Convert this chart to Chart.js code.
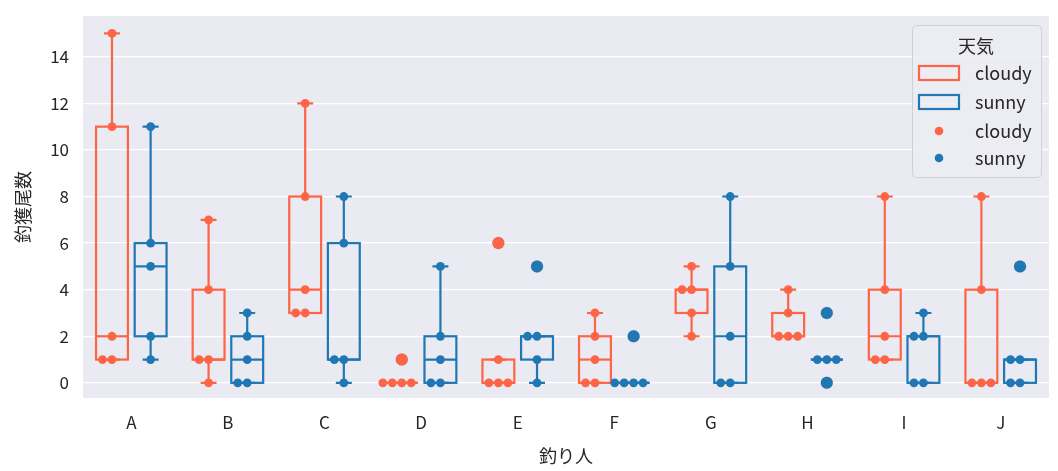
<!DOCTYPE html>
<html>
<head>
<meta charset="utf-8">
<script src="https://cdn.jsdelivr.net/npm/chart.js@4.4.1/dist/chart.umd.min.js"></script>
<style>
  html, body { margin: 0; padding: 0; background: #fff; }
  #wrap { width: 1058px; height: 471px; }
</style>
</head>
<body>
<div id="wrap"><canvas id="c"></canvas></div>
<script>
const categories = ["A", "B", "C", "D", "E", "F", "G", "H", "I", "J"]
const hues = ["cloudy", "sunny"]
const cloudyCatch = [[1, 1, 2, 11, 15], [0, 1, 1, 4, 7], [3, 3, 4, 8, 12], [0, 0, 0, 0, 1], [0, 0, 0, 1, 6],
                     [0, 0, 1, 2, 3], [2, 3, 4, 4, 5], [2, 2, 2, 3, 4], [1, 1, 2, 4, 8], [0, 0, 0, 4, 8]]
const sunnyCatch = [[1, 2, 5, 6, 11], [0, 0, 1, 2, 3], [0, 1, 1, 6, 8], [0, 0, 1, 2, 5], [0, 1, 2, 2, 5],
                    [0, 0, 0, 0, 2], [0, 0, 2, 5, 8], [0, 1, 1, 1, 3], [0, 0, 2, 2, 3], [0, 0, 1, 1, 5]]
const yTicks = [0, 2, 4, 6, 8, 10, 12, 14]

const COLORS = { cloudy: "#fd6546", sunny: "#1f77b4" }
const FONT = "'Noto Sans CJK JP', 'DejaVu Sans', sans-serif"
const DODGE = 0.2, BOX_W = 0.33, SWARM_STEP = 0.098
const SWARM_ORDER = [0, -1, 1, -2, 2, -3, 3]

function quantile(sorted, p) {
  const pos = (sorted.length - 1) * p
  const lo = Math.floor(pos), hi = Math.ceil(pos)
  return sorted[lo] + (sorted[hi] - sorted[lo]) * (pos - lo)
}

function boxStats(values) {
  const s = [...values].sort((a, b) => a - b)
  const q1 = quantile(s, 0.25), med = quantile(s, 0.5), q3 = quantile(s, 0.75)
  const iqr = q3 - q1
  const inside = s.filter(v => v >= q1 - 1.5 * iqr && v <= q3 + 1.5 * iqr)
  return { q1, med, q3, lo: Math.min(...inside), hi: Math.max(...inside),
           fliers: s.filter(v => v < q1 - 1.5 * iqr || v > q3 + 1.5 * iqr) }
}

const groups = []
hues.forEach((hue, h) => {
  const series = h === 0 ? cloudyCatch : sunnyCatch
  series.forEach((vals, i) => {
    groups.push({ hue, x: i + (h === 0 ? -DODGE : DODGE), vals, stats: boxStats(vals) })
  })
})

function swarmPoints(hue) {
  const pts = []
  groups.filter(g => g.hue === hue).forEach(g => {
    const seen = {}
    g.vals.forEach(v => {
      const k = seen[v] || 0
      seen[v] = k + 1
      pts.push({ x: g.x + SWARM_ORDER[k] * SWARM_STEP, y: v })
    })
  })
  return pts
}

function flierPoints(hue) {
  return groups.filter(g => g.hue === hue).flatMap(g => g.stats.fliers.map(v => ({ x: g.x, y: v })))
}

const backgroundPlugin = {
  id: "bg",
  beforeDraw(chart) {
    const { ctx, chartArea: a } = chart
    ctx.save()
    ctx.fillStyle = "#eaeaf2"
    ctx.fillRect(a.left, a.top, a.right - a.left, a.bottom - a.top)
    ctx.restore()
  }
}

const boxPlugin = {
  id: "boxes",
  beforeDatasetsDraw(chart) {
    const { ctx, scales: { x, y } } = chart
    ctx.save()
    ctx.lineWidth = 2.2
    groups.forEach(g => {
      const s = g.stats
      const cx = x.getPixelForValue(g.x)
      const l = x.getPixelForValue(g.x - BOX_W / 2), r = x.getPixelForValue(g.x + BOX_W / 2)
      const cl = x.getPixelForValue(g.x - BOX_W / 4), cr = x.getPixelForValue(g.x + BOX_W / 4)
      ctx.strokeStyle = COLORS[g.hue]
      ctx.beginPath()
      ctx.moveTo(cx, y.getPixelForValue(s.q3)); ctx.lineTo(cx, y.getPixelForValue(s.hi))
      ctx.moveTo(cx, y.getPixelForValue(s.q1)); ctx.lineTo(cx, y.getPixelForValue(s.lo))
      ctx.moveTo(cl, y.getPixelForValue(s.hi)); ctx.lineTo(cr, y.getPixelForValue(s.hi))
      ctx.moveTo(cl, y.getPixelForValue(s.lo)); ctx.lineTo(cr, y.getPixelForValue(s.lo))
      ctx.stroke()
      const top = y.getPixelForValue(s.q3), bot = y.getPixelForValue(s.q1)
      ctx.strokeRect(l, top, r - l, bot - top)
      ctx.beginPath()
      ctx.moveTo(l, y.getPixelForValue(s.med)); ctx.lineTo(r, y.getPixelForValue(s.med))
      ctx.stroke()
    })
    ctx.restore()
  }
}

const legendPlugin = {
  id: "boxLegend",
  afterDraw(chart) {
    const ctx = chart.ctx
    const L = 912, T = 25, W = 129, H = 152
    ctx.save()
    ctx.fillStyle = "rgba(236,236,243,0.85)"
    ctx.strokeStyle = "#d0d0d8"
    ctx.lineWidth = 1
    ctx.beginPath()
    ctx.roundRect(L + 0.5, T + 0.5, W, H, 4)
    ctx.fill(); ctx.stroke()
    ctx.fillStyle = "#262626"
    ctx.font = "18px " + FONT
    ctx.textAlign = "center"; ctx.textBaseline = "middle"
    ctx.fillText("天気", L + 64, T + 21)
    ctx.textAlign = "left"
    const rows = [73, 102, 131, 158]
    hues.forEach((hue, i) => {
      ctx.strokeStyle = COLORS[hue]; ctx.lineWidth = 2.2
      ctx.strokeRect(L + 7, rows[i] - 7, 40, 14)
      ctx.fillStyle = "#262626"
      ctx.fillText(hue, L + 63, rows[i])
    })
    hues.forEach((hue, i) => {
      ctx.fillStyle = COLORS[hue]
      ctx.beginPath(); ctx.arc(L + 27, rows[i + 2], 4.3, 0, Math.PI * 2); ctx.fill()
      ctx.fillStyle = "#262626"
      ctx.fillText(hue, L + 63, rows[i + 2])
    })
    ctx.restore()
  }
}

Chart.defaults.color = "#262626"
Chart.defaults.font.family = FONT
Chart.defaults.font.size = 17

const datasets = []
hues.forEach(hue => {
  datasets.push({ label: hue + " fliers", data: flierPoints(hue), backgroundColor: COLORS[hue],
                  borderColor: "rgba(0,0,0,0.15)", borderWidth: 0.8, pointRadius: 6, pointHoverRadius: 6 })
})
hues.forEach(hue => {
  datasets.push({ label: hue, data: swarmPoints(hue), backgroundColor: COLORS[hue],
                  borderWidth: 0, pointRadius: 4.4, pointHoverRadius: 4.4 })
})

new Chart(document.getElementById("c"), {
  type: "scatter",
  data: { datasets },
  plugins: [backgroundPlugin, boxPlugin, legendPlugin],
  options: {
    responsive: true, maintainAspectRatio: false, animation: false,
    layout: { padding: { left: 12, right: 9, top: 16, bottom: 4 } },
    plugins: { legend: { display: false }, tooltip: { enabled: false } },
    scales: {
      x: {
        type: "linear", min: -0.5, max: categories.length - 0.5,
        afterBuildTicks: s => { s.ticks = categories.map((_, i) => ({ value: i })) },
        afterFit: s => { s.height = 69; s.paddingLeft = 0; s.paddingRight = 0 },
        ticks: { callback: v => categories[v], padding: 14, maxRotation: 0, autoSkip: false },
        grid: { display: false, drawTicks: false },
        border: { display: false },
        title: { display: true, text: "釣り人", font: { size: 18 }, padding: { top: 2, bottom: 0 } }
      },
      y: {
        min: -0.65, max: 15.75,
        afterBuildTicks: s => { s.ticks = yTicks.map(v => ({ value: v })) },
        afterFit: s => { s.width = 71; s.paddingTop = 0; s.paddingBottom = 0 },
        ticks: { padding: 14 },
        grid: { color: "#ffffff", lineWidth: 1.3, drawTicks: false },
        border: { display: false },
        title: { display: true, text: "釣獲尾数", font: { size: 18 }, padding: { top: 0, bottom: 4 } }
      }
    }
  }
})
</script>
</body>
</html>
